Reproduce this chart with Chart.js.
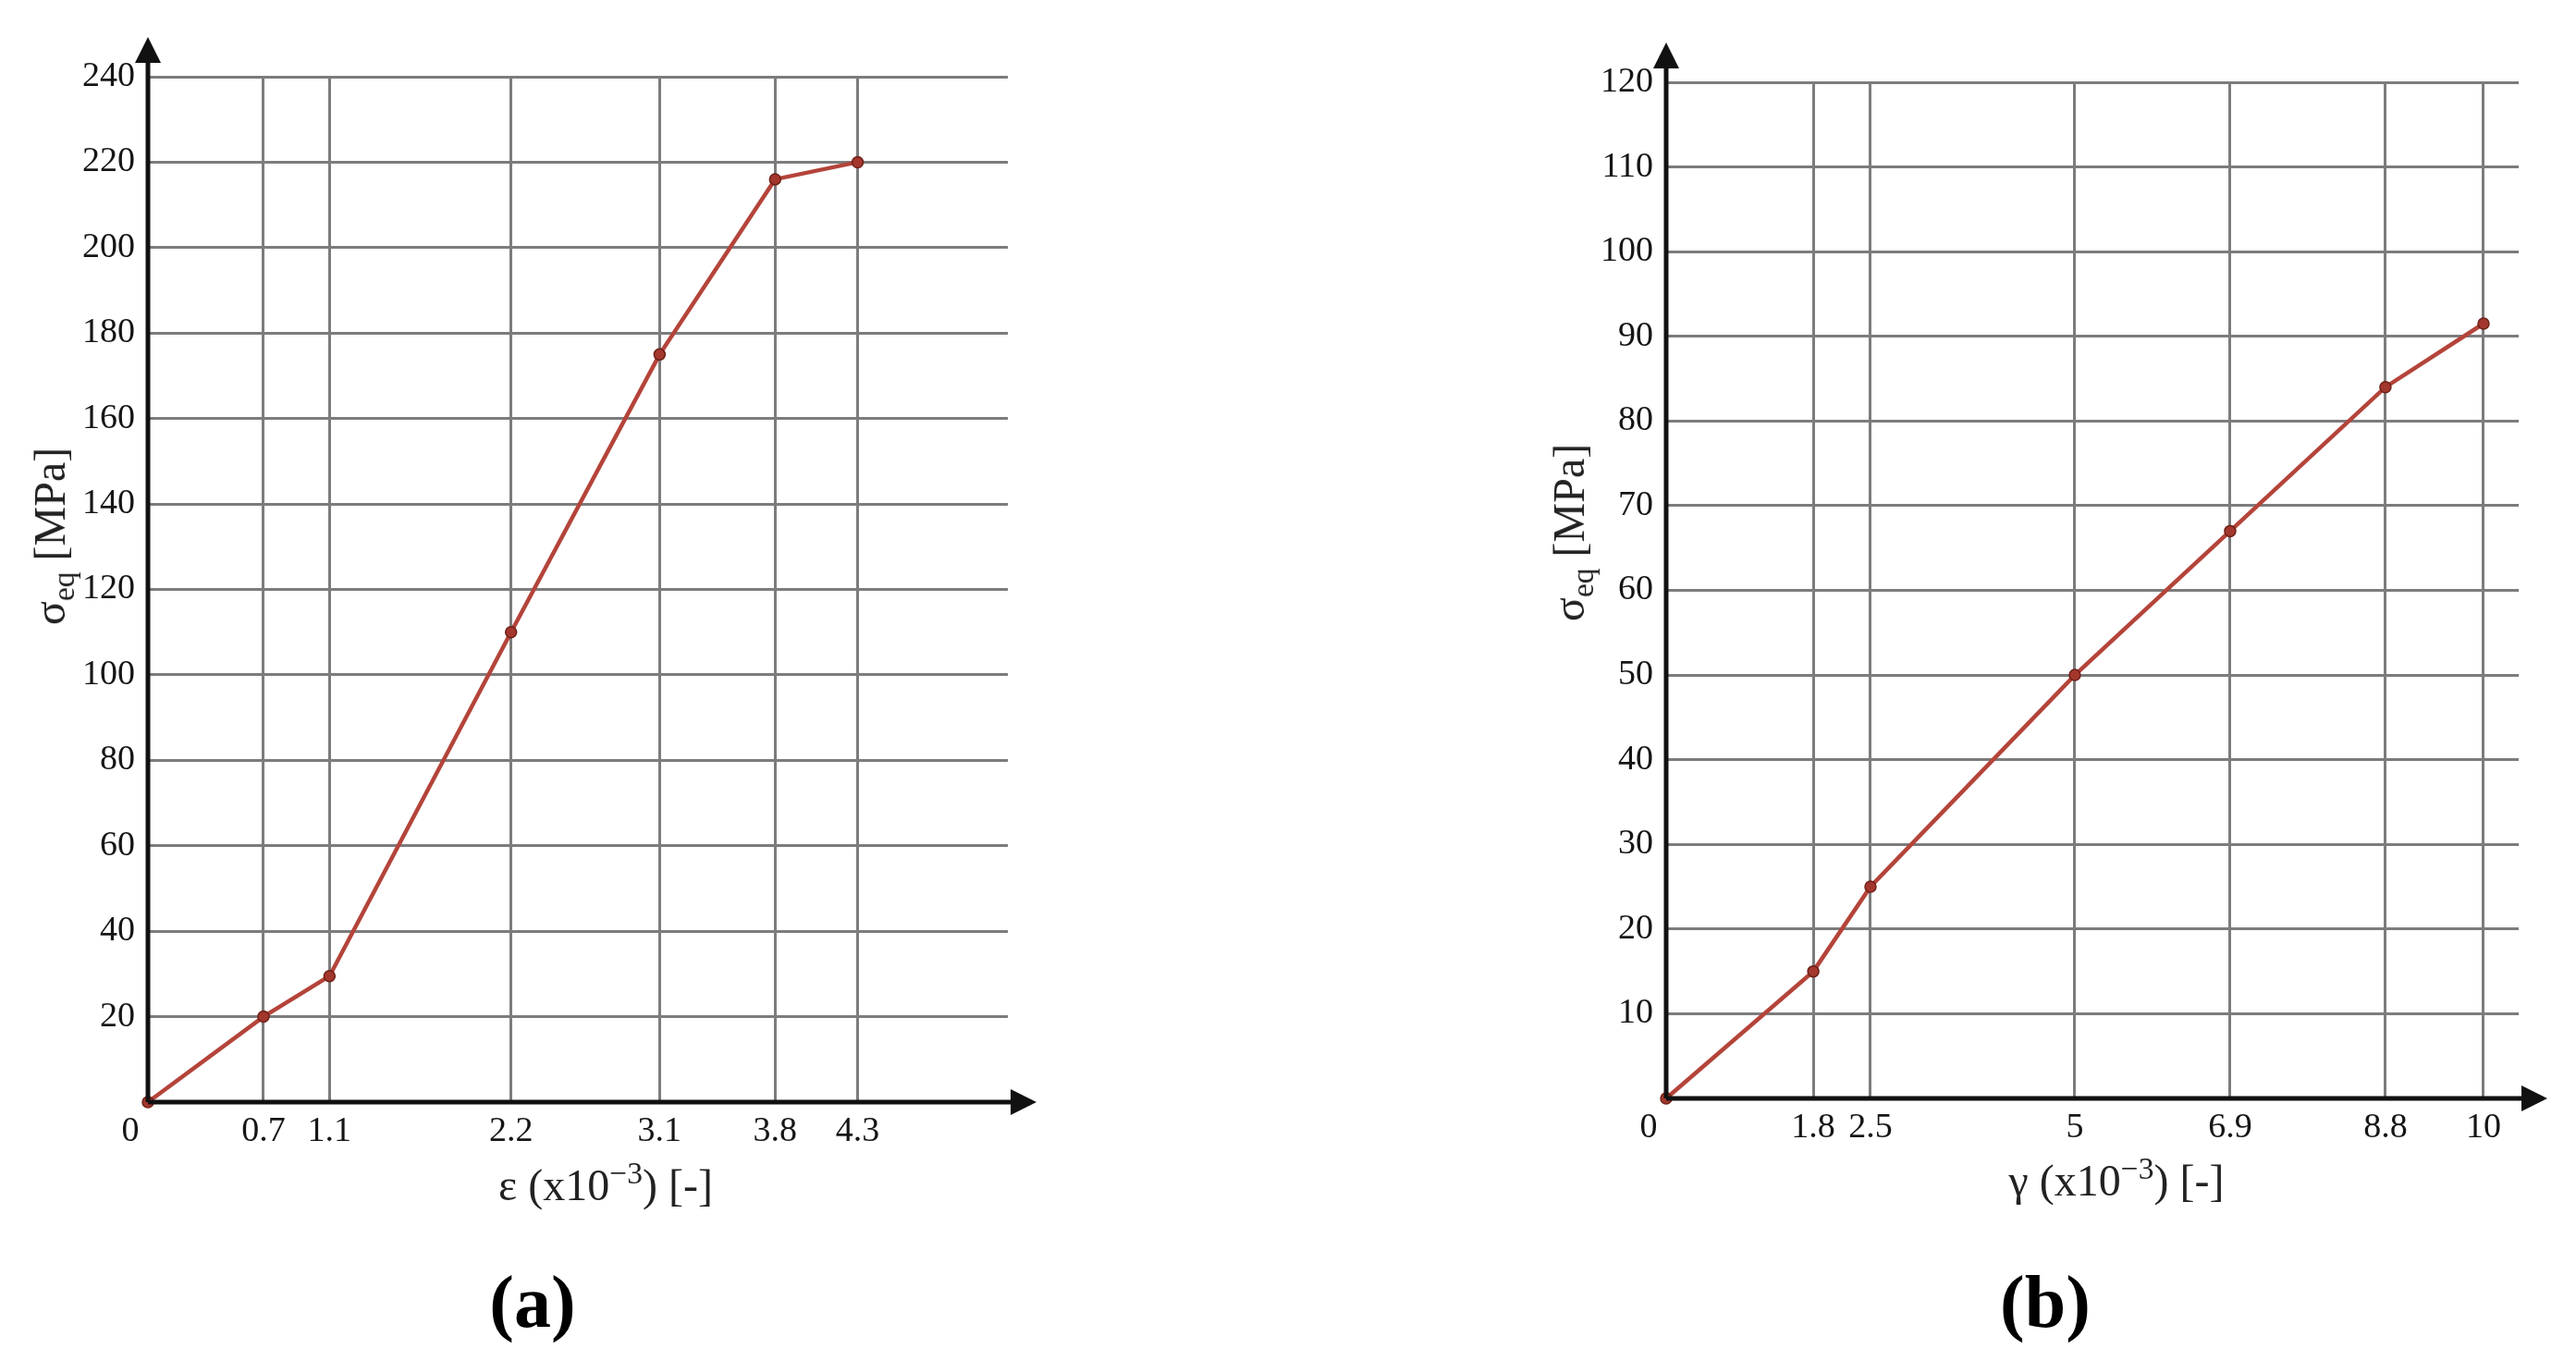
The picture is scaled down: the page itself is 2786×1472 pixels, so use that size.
<!DOCTYPE html>
<html>
<head>
<meta charset="utf-8">
<script src="https://cdn.jsdelivr.net/npm/chart.js@4"></script>
<style>
  body { margin: 0; background: #fff; width: 2786px; height: 1472px; position: relative; overflow: hidden; font-family: 'Liberation Serif', serif; color: #222; }
  canvas { position: absolute; top: 0; }
  .lbl { position: absolute; white-space: nowrap; line-height: 1; transform: translate(-50%, -50%); }
  .xt, .yt { font-size: 48px; }
  .yt { transform: translate(-50%, -50%) rotate(-90deg); }
  .cap { font-size: 80px; font-weight: bold; color: #000; }
  sup { font-size: 0.7em; position: relative; top: -0.55em; vertical-align: baseline; }
  sub { font-size: 0.7em; position: relative; top: 0.3em; vertical-align: baseline; }
</style>
</head>
<body>
<canvas id="chartA" width="1393" height="1472" style="left:0"></canvas>
<canvas id="chartB" width="1393" height="1472" style="left:1393px"></canvas>

<div class="lbl yt" style="left:54px;top:580px">σ<sub>eq</sub> [MPa]</div>
<div class="lbl xt" style="left:655px;top:1282px">ε (x10<sup>−3</sup>) [-]</div>
<div class="lbl cap" style="left:576px;top:1408px">(a)</div>

<div class="lbl yt" style="left:1697px;top:576px">σ<sub>eq</sub> [MPa]</div>
<div class="lbl xt" style="left:2289px;top:1277px">γ (x10<sup>−3</sup>) [-]</div>
<div class="lbl cap" style="left:2212px;top:1408px">(b)</div>

<script>
// (a) normal strain vs equivalent stress
const strainA = [0, 0.7, 1.1, 2.2, 3.1, 3.8, 4.3];
const stressA = [0, 20, 29.5, 110, 175, 216, 220];
const yMaxA = 240;
const yStepA = 20;

// (b) shear strain vs equivalent stress
const strainB = [0, 1.8, 2.5, 5, 6.9, 8.8, 10];
const stressB = [0, 15, 25, 50, 67, 84, 91.5];
const yMaxB = 120;
const yStepB = 10;

const GRID = '#7c7c7c';
const LINE = '#b4443a';
const tickFont = { family: 'Liberation Serif', size: 38 };

// black axes with arrow heads, drawn past the plot area
const axisArrows = {
  id: 'axisArrows',
  afterDraw(chart) {
    const { ctx, chartArea: a } = chart;
    ctx.save();
    ctx.strokeStyle = '#111';
    ctx.fillStyle = '#111';
    ctx.lineWidth = 5;
    ctx.beginPath();
    ctx.moveTo(a.left, a.bottom);
    ctx.lineTo(a.left, a.top - 16);
    ctx.moveTo(a.left, a.bottom);
    ctx.lineTo(a.right + 4, a.bottom);
    ctx.stroke();
    ctx.beginPath();
    ctx.moveTo(a.left - 14, a.top - 15);
    ctx.lineTo(a.left + 14, a.top - 15);
    ctx.lineTo(a.left, a.top - 43);
    ctx.closePath();
    ctx.fill();
    ctx.beginPath();
    ctx.moveTo(a.right + 3, a.bottom - 14);
    ctx.lineTo(a.right + 3, a.bottom + 14);
    ctx.lineTo(a.right + 31, a.bottom);
    ctx.closePath();
    ctx.fill();
    ctx.restore();
  }
};

function makeChart(id, xs, ys, xMax, yMax, yStep, pad) {
  return new Chart(document.getElementById(id), {
    type: 'line',
    data: {
      datasets: [{
        data: xs.map((x, i) => ({ x, y: ys[i] })),
        borderColor: LINE,
        borderWidth: 4.5,
        pointRadius: 6,
        pointBackgroundColor: '#a3372d',
        pointBorderColor: '#6e2018',
        pointBorderWidth: 1.5,
        tension: 0,
        clip: false
      }]
    },
    options: {
      responsive: false,
      animation: false,
      events: [],
      layout: { padding: pad },
      plugins: { legend: { display: false }, tooltip: { enabled: false } },
      scales: {
        x: {
          type: 'linear',
          min: 0,
          max: xMax,
          afterBuildTicks: (s) => { s.ticks = xs.map((v) => ({ value: v })); },
          afterFit: (s) => { s.height = 100; },
          grid: { color: (c) => (c.tick && c.tick.value === 0 ? 'rgba(0,0,0,0)' : GRID), lineWidth: 3, drawTicks: false },
          border: { display: false },
          ticks: {
            font: tickFont,
            color: '#151515',
            padding: 9,
            maxRotation: 0,
            autoSkip: false,
            callback: (v) => (v === 0 ? '0\u2003' : String(v))
          }
        },
        y: {
          min: 0,
          max: yMax,
          afterFit: (s) => { s.width = pad.yWidth; },
          grid: { color: (c) => (c.tick && c.tick.value === 0 ? 'rgba(0,0,0,0)' : GRID), lineWidth: 3, drawTicks: false },
          border: { display: false },
          ticks: {
            stepSize: yStep,
            font: tickFont,
            color: '#151515',
            padding: 14,
            callback: (v) => (v === 0 ? '' : String(v))
          }
        }
      }
    },
    plugins: [axisArrows]
  });
}

makeChart('chartA', strainA, stressA, 5.21, yMaxA, yStepA,
  { top: 83, right: 303, bottom: 180, left: 0, yWidth: 160 });
makeChart('chartB', strainB, stressB, 10.43, yMaxB, yStepB,
  { top: 89, right: 62, bottom: 184, left: 0, yWidth: 409 });
</script>
</body>
</html>
